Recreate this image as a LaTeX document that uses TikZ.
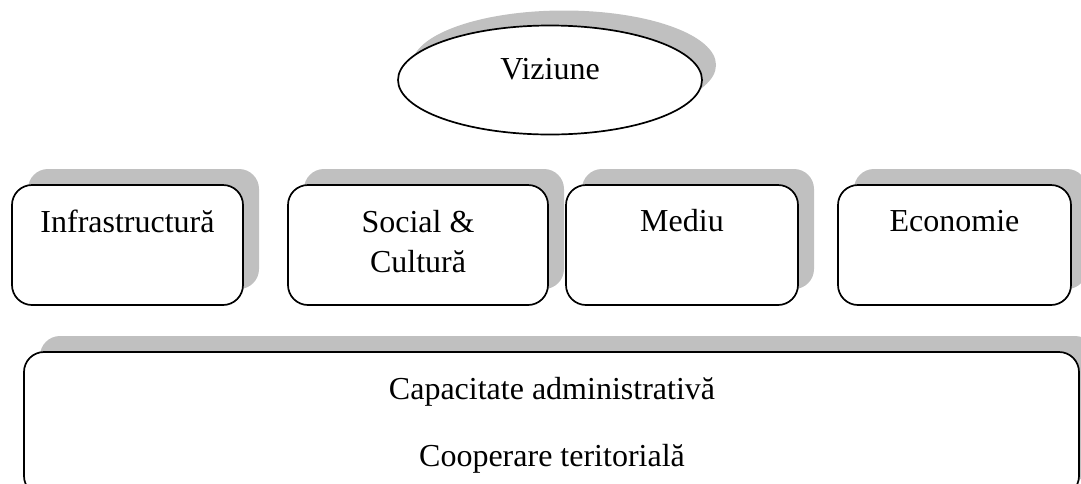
\documentclass[tikz,border=0pt]{standalone}
\usepackage{fontspec}
\setmainfont{Liberation Serif}
\usetikzlibrary{shadows,shapes.geometric}
\definecolor{shad}{RGB}{192,192,192}
\tikzset{
  box/.style={draw=black, line width=1.7pt, fill=white, rounded corners=20pt, inner sep=0pt,
    drop shadow={shadow xshift=16pt, shadow yshift=16pt, fill=shad, opacity=1}},
  oval/.style={ellipse, draw=black, line width=1.7pt, fill=white, inner sep=0pt,
    drop shadow={shadow xshift=14pt, shadow yshift=15pt, fill=shad, opacity=1}},
  lbl/.style={font=\fontsize{32}{38}\selectfont, anchor=base, inner sep=0pt}
}
\begin{document}
\begin{tikzpicture}[x=1pt,y=-1pt]
\useasboundingbox (0,0) rectangle (1081,483);
\clip (0,0) rectangle (1081,483);
% ellipse
\node[oval, minimum width=304pt, minimum height=109pt] (viz) at (550,80) {};
\node[lbl] (tviz) at (550,79) {Viziune};
% pillar boxes
\node[box, minimum width=231pt, minimum height=120pt] (infra) at (127.5,245) {};
\node[box, minimum width=260pt, minimum height=120pt] (soc) at (418,245) {};
\node[box, minimum width=232pt, minimum height=120pt] (med) at (682,245) {};
\node[box, minimum width=233pt, minimum height=120pt] (eco) at (954.5,245) {};
\node[lbl] (tinfra) at (127.5,232) {Infrastructură};
\node[lbl] (tsoc1) at (418,232) {Social \&};
\node[lbl] (tsoc2) at (418,272) {Cultură};
\node[lbl] (tmed) at (682,231) {Mediu};
\node[lbl] (teco) at (954.5,231) {Economie};
% base box
\node[box, minimum width=1055pt, minimum height=144pt] (base) at (551.5,424) {};
\node[lbl] (tcap) at (552,399) {Capacitate administrativă};
\node[lbl] (tcoop) at (552,466) {Cooperare teritorială};
\end{tikzpicture}
\end{document}
